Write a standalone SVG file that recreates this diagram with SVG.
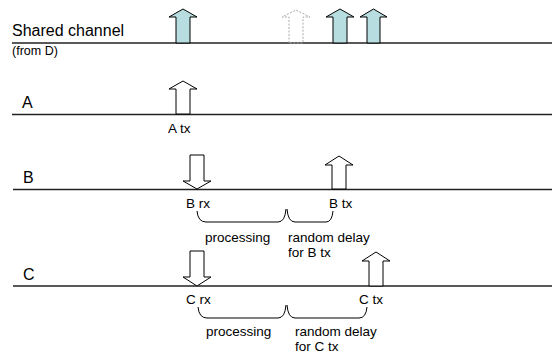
<svg xmlns="http://www.w3.org/2000/svg" width="552" height="354" viewBox="0 0 552 354">
  <defs>
    <style>
      .lane { stroke: #222; stroke-width: 1.5; fill: none; }
      .tx { fill: #b7dde0; stroke: #000; stroke-width: 1; }
      .hollow { fill: #fff; stroke: #000; stroke-width: 1; }
      .ghost { fill: none; stroke: #aaa; stroke-width: 1; stroke-dasharray: 2 1.5; }
      .brace { fill: none; stroke: #000; stroke-width: 1; }
      .big { font-family: "Liberation Sans", Arial, sans-serif; font-size: 16px; fill: #000; }
      .lbl { font-family: "Liberation Sans", Arial, sans-serif; font-size: 13.5px; fill: #000; }
      .sm { font-family: "Liberation Sans", Arial, sans-serif; font-size: 12.5px; fill: #000; }
    </style>
  </defs>

  <!-- timelines -->
  <g id="lanes">
    <line class="lane" x1="12" y1="43" x2="552" y2="43"/>
    <line class="lane" x1="12" y1="114.5" x2="552" y2="114.5"/>
    <line class="lane" x1="13" y1="189.5" x2="552" y2="189.5"/>
    <line class="lane" x1="13" y1="286" x2="552" y2="286"/>
  </g>

  <!-- lane titles -->
  <g id="shared-label">
    <text class="big" x="12" y="36">Shared channel</text>
    <text class="sm" x="12" y="55">(from D)</text>
  </g>
  <g id="lane-a-label"><text class="big" x="22" y="108">A</text></g>
  <g id="lane-b-label"><text class="big" x="23" y="183">B</text></g>
  <g id="lane-c-label"><text class="big" x="23" y="280">C</text></g>

  <!-- transmissions seen on the shared channel -->
  <g id="shared-tx-a">
    <path class="tx" d="M176,43 V17 H169 L183,9 L197,17 H190 V43 Z"/>
  </g>
  <g id="shared-tx-ghost">
    <path class="ghost" d="M289,43 V17 H282 L296,10 L310,17 H303 V43 Z"/>
  </g>
  <g id="shared-tx-b">
    <path class="tx" d="M333,43 V17 H326 L340,9 L354,17 H347 V43 Z"/>
  </g>
  <g id="shared-tx-c">
    <path class="tx" d="M367,43 V17 H360 L373.5,9 L387,17 H380 V43 Z"/>
  </g>

  <!-- node A -->
  <g id="a-tx">
    <path class="hollow" d="M176,114 V89 H169 L183,81 L197,89 H190 V114 Z"/>
    <text class="lbl" x="168" y="133">A tx</text>
  </g>

  <!-- node B -->
  <g id="b-rx">
    <path class="hollow" d="M190,155 H204 V181 H211 L197,189 L183,181 H190 Z"/>
    <text class="lbl" x="186" y="208">B rx</text>
  </g>
  <g id="b-tx">
    <path class="hollow" d="M332,189 V165 H325 L339,156 L353,165 H346 V189 Z"/>
    <text class="lbl" x="329" y="208">B tx</text>
  </g>
  <g id="b-processing">
    <text class="lbl" x="205" y="242">processing</text>
  </g>
  <g id="b-delay">
    <text class="lbl" x="288" y="242">random delay</text>
    <text class="lbl" x="288" y="257">for B tx</text>
  </g>

  <!-- node C -->
  <g id="c-rx">
    <path class="hollow" d="M190,251 H204 V277 H211 L197,286 L183,277 H190 Z"/>
    <text class="lbl" x="186" y="304">C rx</text>
  </g>
  <g id="c-tx">
    <path class="hollow" d="M369,286 V261 H362 L376,252 L390,261 H383 V286 Z"/>
    <text class="lbl" x="359" y="304">C tx</text>
  </g>
  <g id="c-processing">
    <text class="lbl" x="206" y="336">processing</text>
  </g>
  <g id="c-delay">
    <text class="lbl" x="295" y="336">random delay</text>
    <text class="lbl" x="295" y="351">for C tx</text>
  </g>

  <!-- interval brackets -->
  <g id="connectors">
    <path class="brace" d="M197,211 Q198,222 206,222 L278,222 Q285,222 286,209"/>
    <path class="brace" d="M287,209 Q288,222 295,222 L326,222 Q332,222 333,211"/>
    <path class="brace" d="M198,307 Q199,318 207,318 L278,318 Q285,318 286,305"/>
    <path class="brace" d="M287,305 Q288,318 295,318 L359,318 Q366,318 367,307"/>
  </g>
</svg>
